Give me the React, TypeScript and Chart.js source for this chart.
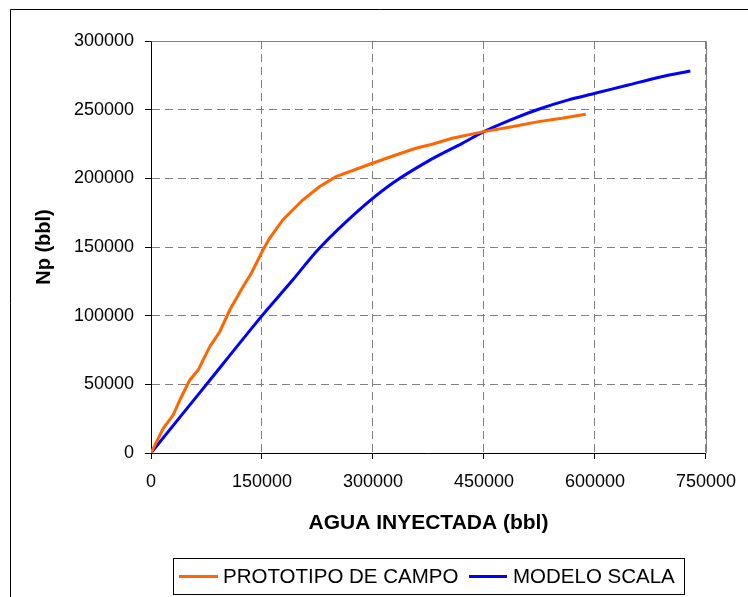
import React, { useEffect, useRef } from "react";
import { Chart, registerables } from "chart.js";

Chart.register(...registerables);

const xTicks = [0, 150000, 300000, 450000, 600000, 750000];
const yTicks = [0, 50000, 100000, 150000, 200000, 250000, 300000];

const seriesNames = ["PROTOTIPO DE CAMPO", "MODELO SCALA"];
const seriesColors = ["#FF6600", "#0000FF"];

const aguaProto = [0, 16600, 30000, 39000, 52500, 63700, 79400, 92900, 106400, 124300, 135600, 151300, 160200, 178100, 205000, 227500, 250000, 299300, 330800, 357800, 380000, 407000, 449700, 487800, 523800, 555200, 587500];
const npProto = [0, 18000, 27700, 38600, 53200, 60400, 77400, 88300, 104100, 121100, 130900, 147800, 156300, 169700, 184200, 193900, 201200, 211000, 217000, 221900, 224800, 229200, 234000, 237600, 241300, 243700, 246600];

const aguaScala = [0, 75000, 149000, 190000, 227500, 281400, 326300, 375700, 420700, 449700, 487800, 523800, 564200, 600100, 645000, 689800, 728900];
const npScala = [0, 50000, 99300, 125000, 149100, 177000, 196400, 212900, 225500, 234000, 243000, 250300, 257100, 261900, 268000, 274000, 278200];

const FONT = "'Liberation Sans', Arial, sans-serif";

const decorPlugin = {
  id: "decor",
  beforeDatasetsDraw(chart: any) {
    const { ctx, chartArea } = chart;
    ctx.save();
    ctx.strokeStyle = "#808080";
    ctx.lineWidth = 1;
    ctx.beginPath();
    ctx.moveTo(Math.round(chartArea.left) + 0.5, Math.round(chartArea.top) + 0.5);
    ctx.lineTo(Math.round(chartArea.right) + 0.5, Math.round(chartArea.top) + 0.5);
    ctx.lineTo(Math.round(chartArea.right) + 0.5, Math.round(chartArea.bottom) + 0.5);
    ctx.stroke();
    ctx.restore();
  },
  afterDraw(chart: any) {
    const { ctx, width, height } = chart;
    ctx.save();
    ctx.strokeStyle = "#000000";
    ctx.lineWidth = 1;
    ctx.beginPath();
    ctx.moveTo(10.5, height);
    ctx.lineTo(10.5, 9.5);
    ctx.lineTo(width, 9.5);
    ctx.stroke();
    ctx.strokeRect(173.5, 558.5, 511, 36);
    const items = [
      { x0: 179, x1: 218, tx: 223 },
      { x0: 469, x1: 507, tx: 513 },
    ];
    ctx.font = `20.5px ${FONT}`;
    ctx.textBaseline = "middle";
    ctx.textAlign = "left";
    items.forEach((it, i) => {
      ctx.strokeStyle = seriesColors[i];
      ctx.lineWidth = 3;
      ctx.beginPath();
      ctx.moveTo(it.x0, 576.5);
      ctx.lineTo(it.x1, 576.5);
      ctx.stroke();
      ctx.fillStyle = "#000000";
      ctx.fillText(seriesNames[i], it.tx, 577);
    });
    ctx.restore();
  },
};

export default function App() {
  const ref = useRef<HTMLCanvasElement | null>(null);
  useEffect(() => {
    if (!ref.current) return;
    const chart = new Chart(ref.current, {
      type: "line",
      data: {
        datasets: [
          {
            label: seriesNames[0],
            data: aguaProto.map((x, i) => ({ x, y: npProto[i] })),
            borderColor: seriesColors[0],
            backgroundColor: seriesColors[0],
            borderWidth: 3,
            pointRadius: 0,
            tension: 0,
          },
          {
            label: seriesNames[1],
            data: aguaScala.map((x, i) => ({ x, y: npScala[i] })),
            borderColor: seriesColors[1],
            backgroundColor: seriesColors[1],
            borderWidth: 3,
            pointRadius: 0,
            tension: 0.3,
          },
        ],
      },
      options: {
        responsive: false,
        maintainAspectRatio: false,
        animation: false,
        layout: { padding: { top: 41, right: 39, bottom: 0, left: 0 } },
        plugins: {
          legend: { display: false },
          tooltip: { enabled: false },
        },
        scales: {
          x: {
            type: "linear",
            min: 0,
            max: 750000,
            afterBuildTicks: (s: any) => {
              s.ticks = xTicks.map((v) => ({ value: v }));
            },
            afterFit: (s: any) => {
              s.height = 144;
            },
            ticks: {
              padding: 12,
              color: "#000000",
              font: { family: FONT, size: 18 },
              maxRotation: 0,
              callback: (v: any) => String(v),
            },
            grid: {
              color: "#808080",
              lineWidth: 1,
              tickLength: 6,
              tickColor: "#000000",
              tickBorderDash: [],
            },
            border: { display: true, color: "#000000", width: 1, dash: [8, 5] },
            title: {
              display: true,
              text: "AGUA INYECTADA (bbl)",
              color: "#000000",
              font: { family: FONT, size: 21, weight: "bold" },
              padding: { top: 0, bottom: 61 },
            },
          },
          y: {
            type: "linear",
            min: 0,
            max: 300000,
            afterBuildTicks: (s: any) => {
              s.ticks = yTicks.map((v) => ({ value: v }));
            },
            afterFit: (s: any) => {
              s.width = 151;
            },
            ticks: {
              padding: 11,
              color: "#000000",
              font: { family: FONT, size: 18 },
              callback: (v: any) => String(v),
            },
            grid: {
              color: "#808080",
              lineWidth: 1,
              tickLength: 6,
              tickColor: "#000000",
              tickBorderDash: [],
            },
            border: { display: true, color: "#000000", width: 1, dash: [8, 5] },
            title: {
              display: true,
              text: "Np (bbl)",
              color: "#000000",
              font: { family: FONT, size: 20, weight: "bold" },
              padding: { top: 32, bottom: 0 },
            },
          },
        },
      },
      plugins: [decorPlugin],
    } as any);
    return () => chart.destroy();
  }, []);
  return (
    <div style={{ position: "fixed", left: 0, top: 0, width: 748, height: 597, background: "#ffffff" }}>
      <canvas ref={ref} width={748} height={597} style={{ display: "block" }} />
    </div>
  );
}
